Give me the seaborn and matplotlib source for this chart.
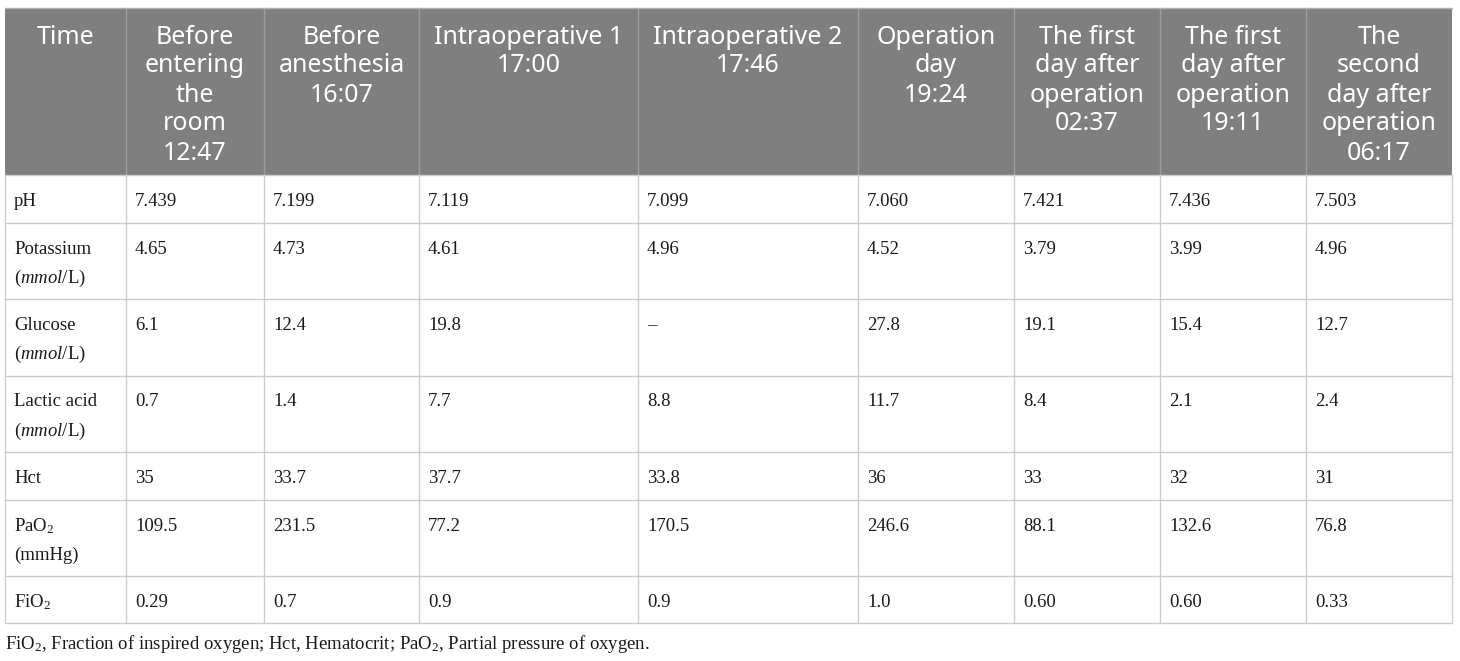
import matplotlib
matplotlib.use("Agg")
import matplotlib.pyplot as plt
import seaborn as sns
from matplotlib.patches import Rectangle

# table content
headers = ["Time",
           "Before\nentering\nthe\nroom\n12:47",
           "Before\nanesthesia\n16:07",
           "Intraoperative 1\n17:00",
           "Intraoperative 2\n17:46",
           "Operation\nday\n19:24",
           "The first\nday after\noperation\n02:37",
           "The first\nday after\noperation\n19:11",
           "The\nsecond\nday after\noperation\n06:17"]

row_labels = ["pH",
              "Potassium\n($\\mathit{mmol}$/L)",
              "Glucose\n($\\mathit{mmol}$/L)",
              "Lactic acid\n($\\mathit{mmol}$/L)",
              "Hct",
              "PaO$_2$\n(mmHg)",
              "FiO$_2$"]

ph = ["7.439", "7.199", "7.119", "7.099", "7.060", "7.421", "7.436", "7.503"]
potassium = ["4.65", "4.73", "4.61", "4.96", "4.52", "3.79", "3.99", "4.96"]
glucose = ["6.1", "12.4", "19.8", "\u2013", "27.8", "19.1", "15.4", "12.7"]
lactic = ["0.7", "1.4", "7.7", "8.8", "11.7", "8.4", "2.1", "2.4"]
hct = ["35", "33.7", "37.7", "33.8", "36", "33", "32", "31"]
pao2 = ["109.5", "231.5", "77.2", "170.5", "246.6", "88.1", "132.6", "76.8"]
fio2 = ["0.29", "0.7", "0.9", "0.9", "1.0", "0.60", "0.60", "0.33"]

footnote = ("FiO$_2$, Fraction of inspired oxygen; Hct, Hematocrit; "
            "PaO$_2$, Partial pressure of oxygen.")

rows = [ph, potassium, glucose, lactic, hct, pao2, fio2]

# layout (pixels)
col_edges = [5, 126, 264, 419, 638, 858, 1014, 1160, 1306, 1452]
row_edges = [8, 175, 223, 299, 375.5, 452, 500, 576, 623]
line_step = 29

sns.set_theme(style="white")
plt.rcParams['font.family'] = ['Noto Sans', 'DejaVu Sans']
plt.rcParams['mathtext.fontset'] = 'custom'
plt.rcParams['mathtext.rm'] = 'Liberation Serif'
plt.rcParams['mathtext.it'] = 'Liberation Serif:italic'

fig = plt.figure(figsize=(14.6, 6.61), dpi=100)
ax = fig.add_axes([0, 0, 1, 1])
ax.set_xlim(0, 1460)
ax.set_ylim(661, 0)
ax.axis("off")

header_bg = "#7f7f7f"
grid_col = "#cccccc"

# header band
ax.add_patch(Rectangle((col_edges[0], row_edges[0]), col_edges[-1] - col_edges[0],
                       row_edges[1] - row_edges[0], facecolor=header_bg, edgecolor="none"))
for x in col_edges[1:-1]:
    ax.plot([x, x], [row_edges[0], row_edges[1]], color="#9c9c9c", lw=1)

# body grid
for y in row_edges[1:]:
    ax.plot([col_edges[0], col_edges[-1]], [y, y], color=grid_col, lw=1)
for x in col_edges:
    ax.plot([x, x], [row_edges[1], row_edges[-1]], color=grid_col, lw=1)
ax.plot([col_edges[0], col_edges[-1]], [row_edges[0], row_edges[0]], color="#b0b0b0", lw=1)

# header text
for i, h in enumerate(headers):
    xc = (col_edges[i] + col_edges[i + 1]) / 2
    for k, line in enumerate(h.split("\n")):
        ax.text(xc, row_edges[0] + 35.5 + k * line_step, line, ha="center", va="baseline",
                color="white", fontsize=18, family=["Noto Sans", "DejaVu Sans"])

# body text
serif = ["Liberation Serif", "DejaVu Serif"]
for r, label in enumerate(row_labels):
    top = row_edges[r + 1]
    cells = [label] + rows[r]
    for c, txt in enumerate(cells):
        for k, line in enumerate(txt.split("\n")):
            ax.text(col_edges[c] + 9, top + 31 + k * line_step, line, ha="left",
                    va="baseline", color="#1a1a1a", fontsize=13.5, family=serif)

ax.text(col_edges[0], 649, footnote, ha="left", va="baseline", color="#1a1a1a",
        fontsize=13.5, family=serif)

fig.savefig("out.png", dpi=100)
